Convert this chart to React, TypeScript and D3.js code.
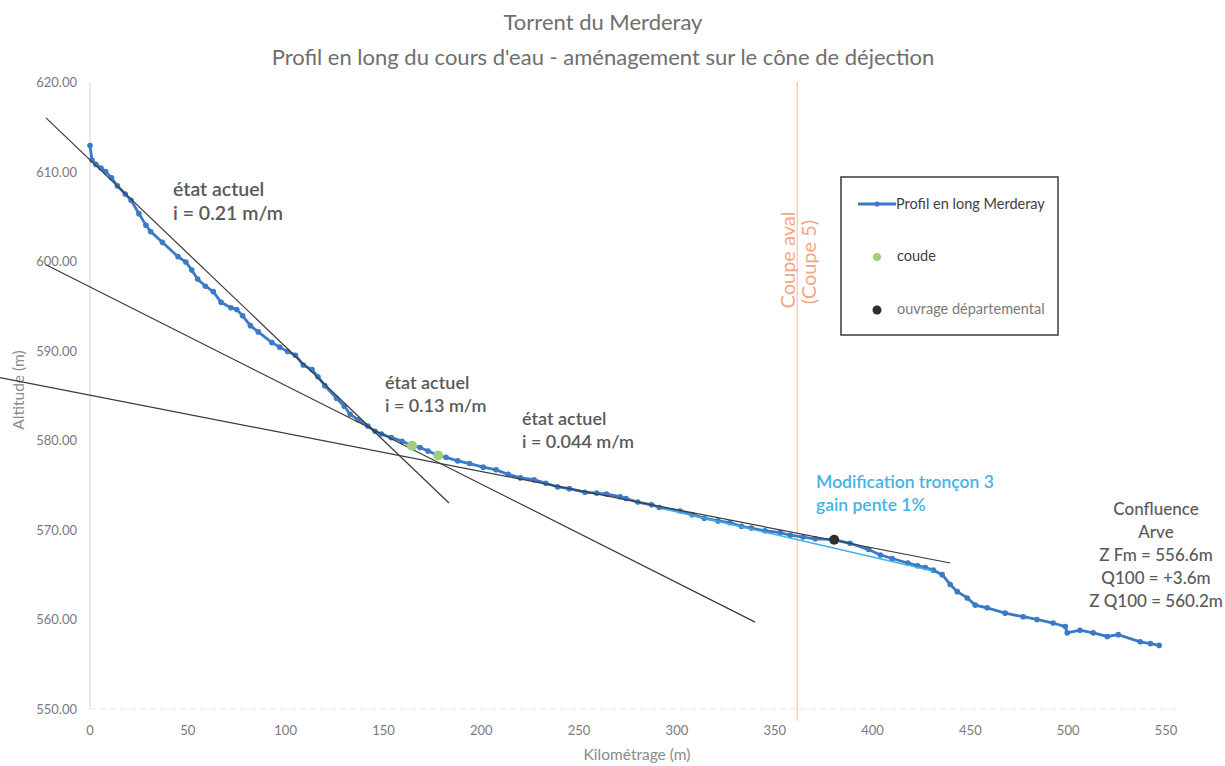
import { useEffect } from "react";
import * as d3 from "d3";

// profil en long: [kilométrage (m), altitude (m)]
const profileKm = [
  0, 1, 3, 5.6, 8, 11, 14, 18, 21, 25, 28.6, 31, 37, 45, 49, 52, 55, 59, 63, 67, 72, 75, 78, 82, 86,
  93, 97, 101, 105, 109, 113.5, 116.5, 120, 126, 130, 133, 137, 142, 145.7, 149, 154, 159.5, 164.6,
  168.7, 172.8, 178, 182, 188, 194, 201, 207.6, 213.7, 220, 227, 233, 239, 245, 253, 259, 264, 271,
  274, 280, 287, 291, 301.6, 307.8, 314, 321, 327, 333, 338, 345, 352.8, 358, 364.5, 370.7, 380.4,
  388.5, 398, 404, 410, 418, 423, 427, 431, 435.6, 439.7, 443.3, 448.4, 452.5, 458.6, 467.8, 477,
  484, 492.3, 498.5, 499.5, 506, 512.8, 520, 525.6, 536.8, 542, 546.5,
];
const profileZ = [
  612.9, 611.3, 610.8, 610.4, 610.0, 609.3, 608.4, 607.5, 606.8, 605.3, 604.0, 603.3, 602.1, 600.5,
  599.9, 599.0, 598.0, 597.2, 596.6, 595.4, 594.8, 594.6, 593.9, 592.8, 592.1, 590.9, 590.4, 589.9,
  589.5, 588.4, 587.9, 587.1, 586.1, 584.7, 583.8, 582.9, 582.3, 581.6, 581.0, 580.7, 580.3, 579.9,
  579.4, 579.2, 578.8, 578.3, 578.1, 577.7, 577.4, 577.0, 576.7, 576.2, 575.8, 575.6, 575.2, 574.8,
  574.6, 574.2, 574.1, 574.0, 573.7, 573.5, 573.1, 572.8, 572.5, 572.1, 571.7, 571.3, 571.0, 570.8,
  570.4, 570.2, 569.9, 569.7, 569.4, 569.2, 569.0, 568.9, 568.5, 567.8, 567.2, 566.8, 566.3, 566.0,
  565.8, 565.5, 565.0, 563.9, 563.1, 562.4, 561.6, 561.3, 560.7, 560.3, 560.0, 559.6, 559.2, 558.5,
  558.8, 558.5, 558.1, 558.3, 557.5, 557.3, 557.1,
];

const coudeKm = [164.6, 178];
const coudeZ = [579.4, 578.3];
const ouvrageKm = [380.4];
const ouvrageZ = [568.9];

// droites de pente (état actuel) : [x0, z0, x1, z1]
const slopeLines = [
  [-22.5, 616.0, 183.5, 573.0],
  [-22.5, 599.6, 340, 559.7],
  [-46, 587.0, 439.7, 566.3],
];
const modifLine = [294, 572.3, 431, 565.4];
const coupeAvalKm = 361.5;

const xTicks = [0, 50, 100, 150, 200, 250, 300, 350, 400, 450, 500, 550];
const yTicks = [550, 560, 570, 580, 590, 600, 610, 620];

const FONT = "Lato, 'Open Sans', sans-serif";

export default function App() {
  useEffect(() => {
    document.body.style.margin = "0";
  }, []);

  const x = d3.scaleLinear().domain([0, 550]).range([90, 1166]);
  const y = d3.scaleLinear().domain([550, 620]).range([709, 82]);

  const pts = profileKm.map((k, i) => [k, profileZ[i]] as [number, number]);
  const line = d3
    .line<[number, number]>()
    .x((d) => x(d[0]))
    .y((d) => y(d[1]));

  const grey = "#6e6e6e";
  const blue = "#3a7ac6";
  const labelColor = "#595959";

  return (
    <svg width={1225} height={766} style={{ display: "block", background: "#fff" }} fontFamily={FONT}>
      {/* titres */}
      <text x={603} y={30} textAnchor="middle" fontSize={22} fill={grey}>
        Torrent du Merderay
      </text>
      <text x={603} y={65} textAnchor="middle" fontSize={22} fill={grey}>
        Profil en long du cours d'eau - aménagement sur le cône de déjection
      </text>

      {/* axes */}
      <line x1={x(0)} x2={x(0)} y1={y(620)} y2={y(550)} stroke="#e2e2e2" strokeWidth={1.5} />
      <line x1={x(0)} x2={x(550) + 14} y1={y(550)} y2={y(550)} stroke="#e6e6e6" strokeWidth={1} strokeDasharray="6 4" />
      {yTicks.map((t) => (
        <text key={t} x={77} y={y(t) + 5} textAnchor="end" fontSize={13} fill="#7a7a7a">
          {t.toFixed(2)}
        </text>
      ))}
      {xTicks.map((t) => (
        <text key={t} x={x(t)} y={735} textAnchor="middle" fontSize={13} fill="#7a7a7a">
          {t}
        </text>
      ))}
      <text x={637} y={760} textAnchor="middle" fontSize={15.5} fill="#8a8a8a">
        Kilométrage (m)
      </text>
      <text transform="translate(24,390) rotate(-90)" textAnchor="middle" fontSize={15.5} fill="#8a8a8a">
        Altitude (m)
      </text>

      {/* coupe aval */}
      <line x1={x(coupeAvalKm)} x2={x(coupeAvalKm)} y1={y(620)} y2={y(550) + 12} stroke="#f2b9a0" strokeWidth={1} />
      <text transform={`translate(${x(coupeAvalKm) - 2},260) rotate(-90)`} textAnchor="middle" fontSize={20} fill="#f4a582">
        Coupe aval
      </text>
      <text transform={`translate(${x(coupeAvalKm) + 19},262) rotate(-90)`} textAnchor="middle" fontSize={20} fill="#f4a582">
        (Coupe 5)
      </text>

      {/* profil */}
      <path d={line(pts) ?? ""} fill="none" stroke={blue} strokeWidth={2.8} />
      {pts.map((p, i) => (
        <circle key={i} cx={x(p[0])} cy={y(p[1])} r={2.8} fill={blue} />
      ))}

      {/* droites de pente */}
      {slopeLines.map((l, i) => (
        <line key={i} x1={x(l[0])} y1={y(l[1])} x2={x(l[2])} y2={y(l[3])} stroke="#3a3a3a" strokeWidth={1.2} />
      ))}
      <line x1={x(modifLine[0])} y1={y(modifLine[1])} x2={x(modifLine[2])} y2={y(modifLine[3])} stroke="#3fb0e4" strokeWidth={1.5} />

      {coudeKm.map((k, i) => (
        <circle key={k} cx={x(k)} cy={y(coudeZ[i])} r={5} fill="#9fd07c" />
      ))}
      {ouvrageKm.map((k, i) => (
        <circle key={k} cx={x(k)} cy={y(ouvrageZ[i])} r={5} fill="#2f2f2f" />
      ))}

      {/* annotations */}
      <g fontWeight={600} fill={labelColor}>
        <text x={173} y={196} fontSize={19.5}>état actuel</text>
        <text x={173} y={220} fontSize={19.5}>i = 0.21 m/m</text>
        <text x={385} y={389} fontSize={18}>état actuel</text>
        <text x={385} y={412} fontSize={18}>i = 0.13 m/m</text>
        <text x={522} y={425} fontSize={18}>état actuel</text>
        <text x={522} y={448} fontSize={18}>i = 0.044 m/m</text>
      </g>
      <g fontSize={17.5} fontWeight={600} fill="#45b3e6">
        <text x={816} y={488}>Modification tronçon 3</text>
        <text x={816} y={511}>gain pente 1%</text>
      </g>
      <g fontSize={17} fontWeight={500} fill={labelColor} textAnchor="middle">
        <text x={1156} y={515}>Confluence</text>
        <text x={1156} y={538}>Arve</text>
        <text x={1156} y={561}>Z Fm = 556.6m</text>
        <text x={1156} y={584}>Q100 = +3.6m</text>
        <text x={1156} y={607}>Z Q100 = 560.2m</text>
      </g>

      {/* légende */}
      <rect x={841} y={177} width={217} height={158} fill="#fff" stroke="#3a3a3a" strokeWidth={1.5} />
      <line x1={858} x2={896} y1={204} y2={204} stroke={blue} strokeWidth={3} />
      <circle cx={877} cy={204} r={2.6} fill={blue} />
      <text x={896} y={209} fontSize={14.5} fill="#404040">Profil en long Merderay</text>
      <circle cx={877} cy={257} r={4} fill="#9fd07c" />
      <text x={897} y={261} fontSize={14.5} fill="#404040">coude</text>
      <circle cx={877} cy={310} r={4.5} fill="#2f2f2f" />
      <text x={897} y={314} fontSize={14.5} fill="#7a7a7a">ouvrage départemental</text>
    </svg>
  );
}
